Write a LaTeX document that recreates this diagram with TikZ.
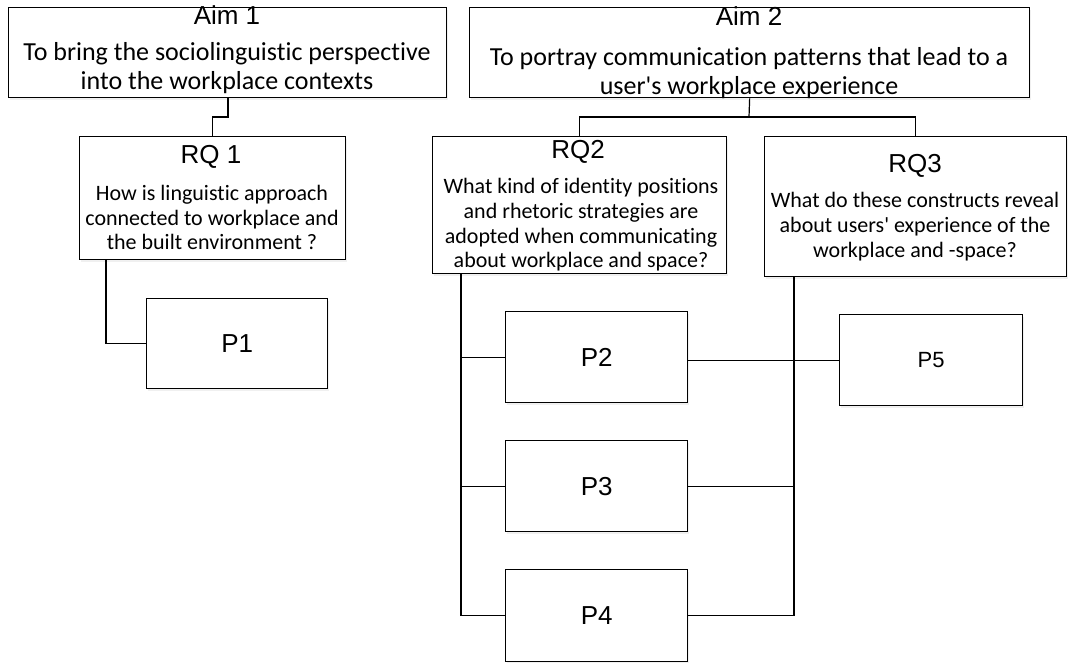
\documentclass[tikz,border=0pt]{standalone}
\usepackage{fontspec}
\setmainfont{Carlito}[Ligatures={NoCommon,NoContextual}, RawFeature={-liga;-clig;-calt;-dlig}]
\newfontfamily\arialf{Liberation Sans}
\usetikzlibrary{shadows}
\begin{document}
\begin{tikzpicture}[x=1pt,y=-1pt,
  box/.style={draw, line width=1.3pt, fill=white, inner sep=0pt, anchor=north west,
    drop shadow={shadow xshift=1.5pt, shadow yshift=-2pt, opacity=0.12}},
  conn/.style={line width=1.2pt},
  ttl/.style={font=\arialf\fontsize{26}{30}\selectfont, inner sep=0pt, anchor=base},
  plabel/.style={font=\arialf\fontsize{26}{30}\selectfont, inner sep=0pt},
  aimtext/.style={align=center, inner sep=0pt, font=\fontsize{26}{29}\selectfont},
  rqtext/.style={align=center, inner sep=0pt, font=\fontsize{22}{24.7}\selectfont}
]
\useasboundingbox (0,0) rectangle (1073,662);

% boxes
\node[box, minimum width=438pt, minimum height=90pt] (aim1) at (8,7) {};
\node[box, minimum width=560pt, minimum height=90pt] (aim2) at (469,7) {};
\node[box, minimum width=266pt, minimum height=123pt] (rq1) at (79,136) {};
\node[box, minimum width=294pt, minimum height=137pt] (rq2) at (432,136) {};
\node[box, minimum width=302pt, minimum height=140pt] (rq3) at (764,136) {};
\node[box, minimum width=181pt, minimum height=90pt] (p1) at (146,298) {};
\node[box, minimum width=182pt, minimum height=91pt] (p2) at (505,311) {};
\node[box, minimum width=182pt, minimum height=91pt] (p3) at (505,440) {};
\node[box, minimum width=182pt, minimum height=92pt] (p4) at (505,569) {};
\node[box, minimum width=183pt, minimum height=91pt] (p5) at (839,314) {};

% texts
\node[ttl] (aim1t) at (227,24) {Aim 1};
\node[aimtext] (aim1b) at (227,68.5) {To bring the sociolinguistic perspective\\into the workplace contexts};
\node[ttl] (aim2t) at (749,25) {Aim 2};
\node[aimtext] (aim2b) at (749,73) {To portray communication patterns that lead to a\\user\textquotesingle s workplace experience};

\node[ttl] (rq1t) at (211,163) {RQ 1};
\node[rqtext] (rq1b) at (212,217.5) {How is linguistic approach\\connected to workplace and\\the built environment ?};
\node[ttl] (rq2t) at (578,158) {RQ2};
\node[rqtext] (rq2b) at (581,225) {What kind of identity positions\\and rhetoric strategies are\\adopted when communicating\\about workplace and space?};
\node[ttl] (rq3t) at (915,172) {RQ3};
\node[rqtext] (rq3b) at (915,226.5) {What do these constructs reveal\\about users\textquotesingle{} experience of the\\workplace and -space?};

\node[plabel] (p1t) at (p1.center) {P1};
\node[plabel] (p2t) at (p2.center) {P2};
\node[plabel] (p3t) at (p3.center) {P3};
\node[plabel] (p4t) at (p4.center) {P4};
\node[plabel, font=\arialf\fontsize{22}{26}\selectfont] (p5t) at (p5.center) {P5};

% connectors
\coordinate (j1) at (228,117);
\draw[conn] (aim1.south -| j1) -- (j1) -| (rq1.north);
\coordinate (j2) at (749,117);
\draw[conn] (aim2.south) -- (j2);
\draw[conn] (rq2.north) |- (j2) -| (rq3.north);

\coordinate (v1) at (106,0);
\draw[conn] (rq1.south -| v1) |- (p1.west);

\coordinate (v2) at (461,0);
\draw[conn] (rq2.south -| v2) |- (p4.west);
\draw[conn] (v2 |- p2.west) -- (p2.west);
\draw[conn] (v2 |- p3.west) -- (p3.west);

\coordinate (v3) at (794,0);
\draw[conn] (rq3.south -| v3) |- (p4.east);
\draw[conn] ([yshift=-3pt]p2.east) -- (p5.west);
\draw[conn] (p3.east) -- (p3.east -| v3);
\end{tikzpicture}
\end{document}
